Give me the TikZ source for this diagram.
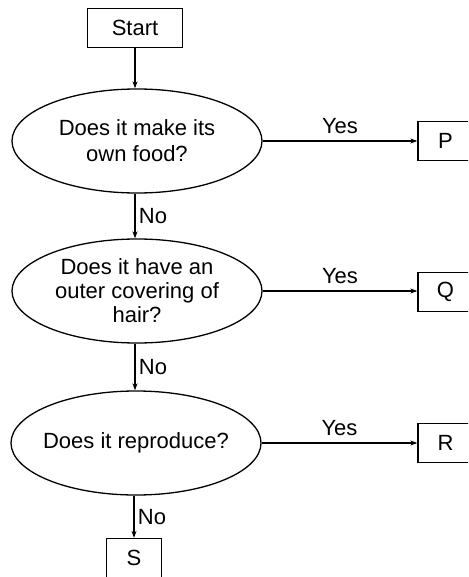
\documentclass[tikz,border=0pt]{standalone}
\usepackage{fontspec}
\setmainfont{Liberation Sans}
\usetikzlibrary{shapes.geometric,arrows.meta}

\begin{document}
\begin{tikzpicture}[x=1pt, y=-1pt, line width=1.3pt,
    >={Stealth[length=7pt,width=5pt]},
    every node/.style={font=\fontsize{22}{26}\selectfont},
    block/.style={rectangle, draw=black, minimum height=39pt, inner sep=0pt},
    decision/.style={ellipse, draw=black, minimum width=250pt, minimum height=104pt,
                     inner xsep=-25pt, inner ysep=0pt, align=center}]
    \useasboundingbox (0, 0) rectangle (468, 577);
    \clip (0, 0) rectangle (468, 577);

    \node[block, minimum width=95pt] (start) at (135, 28)  {Start};
    \node[decision] (food)  at (137, 141) {Does it make its\\own food?};
    \node[decision, font=\fontsize{22}{24}\selectfont] (hair) at (137, 291) {Does it have an\\outer covering of\\hair?};
    \node[decision] (repro) at (136, 443) {Does it reproduce?};

    \node[block, minimum width=55pt] (p) at (445.5, 141) {P};
    \node[block, minimum width=55pt] (q) at (445.5, 292) {Q};
    \node[block, minimum width=55pt] (r) at (445.5, 443) {R};
    \node[block, minimum width=55pt] (s) at (134, 558) {S};

    \draw[->] (start) -- (start |- food.north);
    \draw[->] (food.east) -- node[above=3pt] {Yes} (p.west);
    \draw[->] (food.south -| start) -- node[right] {No} (start |- hair.north);
    \draw[->] (hair.east) -- node[above=3pt] {Yes} (q.west |- hair.east);
    \draw[->] (hair.south -| start) -- node[right] {No} (start |- repro.north);
    \draw[->] (repro.east) -- node[above=3pt] {Yes} (r.west);
    \draw[->] (repro.south -| s) -- node[right] {No} (s);
\end{tikzpicture}
\end{document}
